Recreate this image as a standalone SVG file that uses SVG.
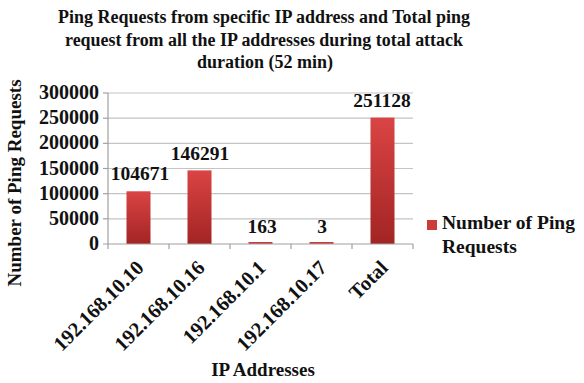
<svg xmlns="http://www.w3.org/2000/svg" width="584" height="383" viewBox="0 0 584 383">
<style>
text{font-family:"Liberation Serif","Times New Roman",serif;font-weight:bold;fill:#111}
.title{font-size:18px;text-anchor:middle}
.tick{font-size:20px;text-anchor:end}
.val{font-size:19.5px;text-anchor:middle}
.xl{font-size:20.5px;text-anchor:end}
.grid{stroke:#c4c4c4;stroke-width:1.2}
.axis{stroke:#a0a0a0;stroke-width:1.2}
</style>
<defs>
<linearGradient id="bar" x1="0" y1="0" x2="0" y2="1">
<stop offset="0" stop-color="#da4444"/>
<stop offset="1" stop-color="#a32424"/>
</linearGradient>
</defs>
<rect width="584" height="383" fill="#fff"/>
<g id="title">
<text class="title" x="264" y="23" textLength="412" lengthAdjust="spacingAndGlyphs">Ping Requests from specific IP address and Total ping</text>
<text class="title" x="264" y="46" textLength="398" lengthAdjust="spacingAndGlyphs">request from all the IP addresses during total attack</text>
<text class="title" x="265" y="68">duration (52 min)</text>
</g>
<g id="gridlines">
<line class="grid" x1="108" y1="93" x2="413" y2="93"/>
<line class="grid" x1="108" y1="118.2" x2="413" y2="118.2"/>
<line class="grid" x1="108" y1="143.3" x2="413" y2="143.3"/>
<line class="grid" x1="108" y1="168.5" x2="413" y2="168.5"/>
<line class="grid" x1="108" y1="193.7" x2="413" y2="193.7"/>
<line class="grid" x1="108" y1="218.8" x2="413" y2="218.8"/>
</g>
<g id="bars">
<rect x="126.5" y="191.3" width="24" height="52.7" fill="url(#bar)"/>
<rect x="187.5" y="170.4" width="24" height="73.6" fill="url(#bar)"/>
<rect x="248.5" y="242" width="24" height="2" fill="#cc3b3b"/>
<rect x="309.5" y="242" width="24" height="2" fill="#cc3b3b"/>
<rect x="370.5" y="117.6" width="24" height="126.4" fill="url(#bar)"/>
</g>
<g id="axes">
<line class="axis" x1="108" y1="93" x2="108" y2="244"/>
<line class="axis" x1="103" y1="93" x2="108" y2="93"/>
<line class="axis" x1="103" y1="118.2" x2="108" y2="118.2"/>
<line class="axis" x1="103" y1="143.3" x2="108" y2="143.3"/>
<line class="axis" x1="103" y1="168.5" x2="108" y2="168.5"/>
<line class="axis" x1="103" y1="193.7" x2="108" y2="193.7"/>
<line class="axis" x1="103" y1="218.8" x2="108" y2="218.8"/>
<line class="axis" x1="103" y1="244" x2="413" y2="244"/>
<line class="axis" x1="108" y1="244" x2="108" y2="249"/>
<line class="axis" x1="169" y1="244" x2="169" y2="249"/>
<line class="axis" x1="230" y1="244" x2="230" y2="249"/>
<line class="axis" x1="291" y1="244" x2="291" y2="249"/>
<line class="axis" x1="352" y1="244" x2="352" y2="249"/>
<line class="axis" x1="413" y1="244" x2="413" y2="249"/>
</g>
<g id="y-ticks">
<text class="tick" x="99" y="99">300000</text>
<text class="tick" x="99" y="124.2">250000</text>
<text class="tick" x="99" y="149.3">200000</text>
<text class="tick" x="99" y="174.5">150000</text>
<text class="tick" x="99" y="199.7">100000</text>
<text class="tick" x="99" y="224.8">50000</text>
<text class="tick" x="99" y="250">0</text>
</g>
<g id="values">
<text class="val" x="140" y="180">104671</text>
<text class="val" x="200" y="160">146291</text>
<text class="val" x="262" y="233">163</text>
<text class="val" x="322" y="233">3</text>
<text class="val" x="382" y="107">251128</text>
</g>
<g id="x-labels">
<text class="xl" transform="translate(145,269) rotate(-45)">192.168.10.10</text>
<text class="xl" transform="translate(206,269) rotate(-45)">192.168.10.16</text>
<text class="xl" transform="translate(267,269) rotate(-45)">192.168.10.1</text>
<text class="xl" transform="translate(328,269) rotate(-45)">192.168.10.17</text>
<text class="xl" transform="translate(389,269) rotate(-45)">Total</text>
</g>
<g id="axis-titles">
<text style="font-size:19px;text-anchor:middle" x="263" y="376">IP Addresses</text>
<text style="font-size:19px;text-anchor:middle" transform="translate(21,183) rotate(-90)">Number of Ping Requests</text>
</g>
<g id="legend">
<rect x="427" y="220" width="10" height="10" fill="#cc3b3b"/>
<text style="font-size:19.5px" x="442" y="229">Number of Ping</text>
<text style="font-size:19.5px" x="442" y="253">Requests</text>
</g>
</svg>
